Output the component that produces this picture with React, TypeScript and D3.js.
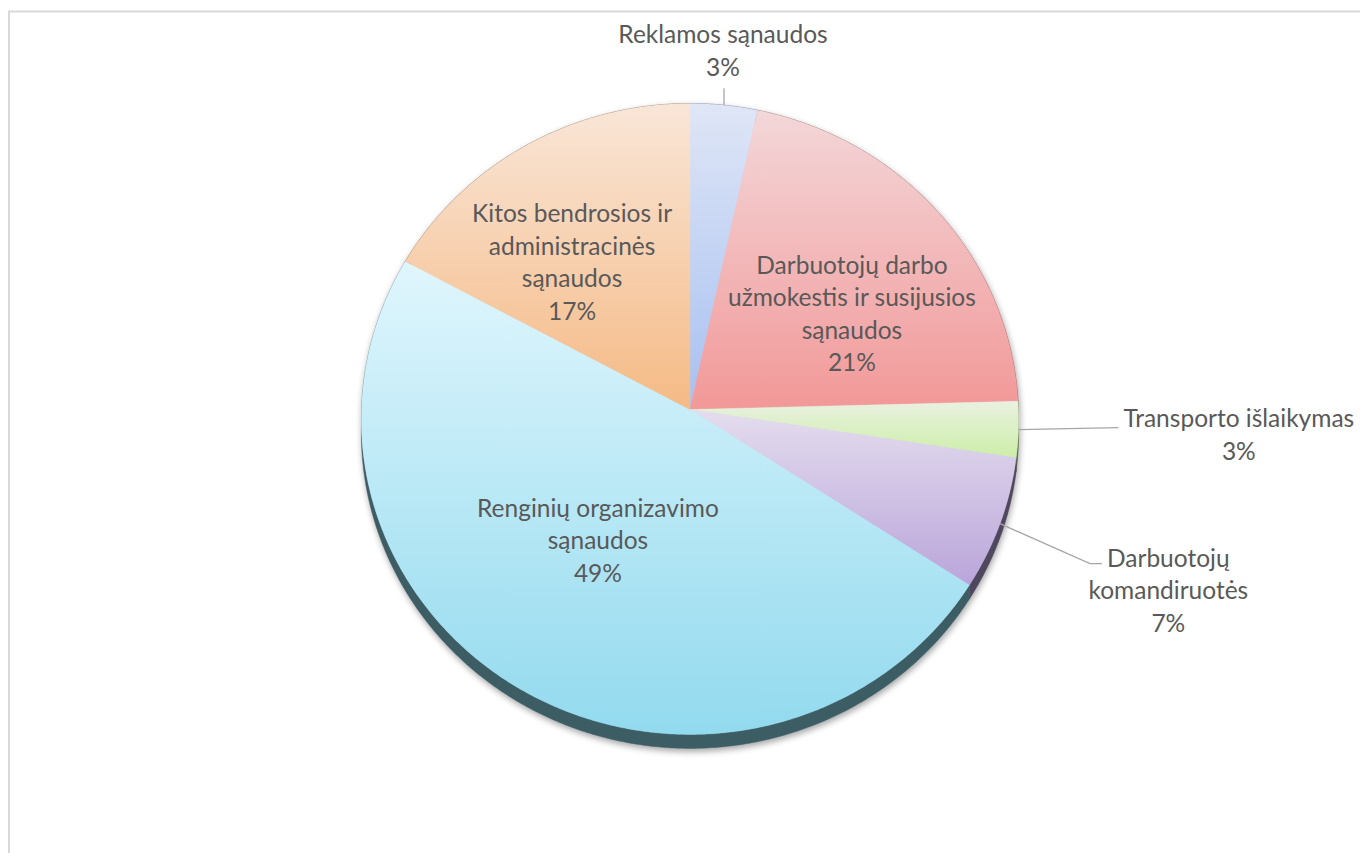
import React, { useEffect, useRef } from 'react';
import * as d3 from 'd3';

// data
const categories = [
  'Reklamos sąnaudos',
  'Darbuotojų darbo užmokestis ir susijusios sąnaudos',
  'Transporto išlaikymas',
  'Darbuotojų komandiruotės',
  'Renginių organizavimo sąnaudos',
  'Kitos bendrosios ir administracinės sąnaudos',
];
const values = [3.4, 21.2, 2.85, 6.8, 48.7, 17.1];
const labelLines = [
  ['Reklamos sąnaudos'],
  ['Darbuotojų darbo', 'užmokestis ir susijusios', 'sąnaudos'],
  ['Transporto išlaikymas'],
  ['Darbuotojų', 'komandiruotės'],
  ['Renginių organizavimo', 'sąnaudos'],
  ['Kitos bendrosios ir', 'administracinės', 'sąnaudos'],
];
const topColors = ['#dfe6f6', '#f3d7d9', '#e9f1e0', '#e4ddee', '#e0f6fd', '#f9e6d8'];
const bottomColors = ['#a7c0f1', '#f29898', '#cdeea8', '#baa5da', '#92daee', '#f5ba85'];

const W = 1360;
const H = 853;

// slightly tilted pie (perspective)
const CX = 690;
const CY = 409.5;
const RX = 328.5;
const RY = 315.2;
const PERSP = 0.0299;
const DEPTH = 14;

// label layout: inside = [radius fraction, angle deg], outside = leader elbow offset
const labelInside: (number[] | null)[] = [null, [0.584, 58.4], null, null, [0.495, 214], [0.598, 322.5]];
const labelOutside: (number[] | null)[] = [[0, -17], null, [100, -2], [90, 40], null, null];

function project(theta: number, r: number): [number, number] {
  const u = r * Math.sin(theta);
  const v = -r * Math.cos(theta);
  const den = 1 - PERSP * v;
  return [CX + (RX * u) / den, CY + (RY * v) / den];
}

function arcPoints(a0: number, a1: number) {
  const n = Math.max(2, Math.ceil(((a1 - a0) * 180) / Math.PI / 0.5));
  return d3.range(n + 1).map(i => project(a0 + ((a1 - a0) * i) / n, 1));
}

export default function App() {
  const ref = useRef<SVGSVGElement>(null);

  useEffect(() => {
    const svg = d3.select(ref.current);
    svg.selectAll('*').remove();

    const total = d3.sum(values);
    const pct = d3.format('.0%');
    const arcs = d3.pie<number>().sort(null).value(d => d)(values);
    const line = d3.line();

    const defs = svg.append('defs');
    arcs.forEach((a, i) => {
      const g = defs.append('linearGradient').attr('id', 'grad' + i)
        .attr('x1', 0).attr('y1', 0).attr('x2', 0).attr('y2', 1);
      g.append('stop').attr('offset', '0%').attr('stop-color', topColors[i]);
      g.append('stop').attr('offset', '100%').attr('stop-color', bottomColors[i]);
    });
    defs.append('filter').attr('id', 'shadow')
      .attr('x', '-10%').attr('y', '-10%').attr('width', '120%').attr('height', '125%')
      .append('feDropShadow')
      .attr('dx', 1).attr('dy', 3).attr('stdDeviation', 3)
      .attr('flood-color', '#000').attr('flood-opacity', 0.35);

    // chart frame
    svg.append('rect')
      .attr('x', 9).attr('y', 11.5).attr('width', W + 40).attr('height', H + 40)
      .attr('fill', '#fff').attr('stroke', '#d9d9d9').attr('stroke-width', 2);

    const pieG = svg.append('g').attr('filter', 'url(#shadow)');

    // side walls
    arcs.forEach((a, i) => {
      const pts = arcPoints(a.startAngle, a.endAngle);
      const low = pts.map(p => [p[0], p[1] + DEPTH] as [number, number]).reverse();
      const side = d3.color(bottomColors[i])!.darker(2.4).formatHex();
      pieG.append('path')
        .attr('d', line([...pts, ...low]) + 'Z')
        .attr('fill', side)
        .attr('stroke', side)
        .attr('stroke-width', 0.5);
    });

    // top surface
    arcs.forEach((a, i) => {
      const pts = arcPoints(a.startAngle, a.endAngle);
      pieG.append('path')
        .attr('d', line([[CX, CY], ...pts]) + 'Z')
        .attr('fill', `url(#grad${i})`)
        .attr('stroke', `url(#grad${i})`)
        .attr('stroke-width', 0.4);
    });

    const fs = 24.5;
    const lh = 32.5;
    const textG = svg.append('g')
      .attr('font-family', 'Lato, "Open Sans", sans-serif')
      .attr('font-size', fs)
      .attr('fill', '#595959');

    const drawBlock = (lines: string[], x: number, yFirst: number, anchor: string) => {
      const t = textG.append('text').attr('text-anchor', anchor);
      lines.forEach((l, k) => {
        t.append('tspan').attr('x', x).attr('y', yFirst + k * lh + fs * 0.36).text(l);
      });
      return t;
    };

    arcs.forEach((a, i) => {
      const lines = [...labelLines[i], pct(values[i] / total)];
      const inside = labelInside[i];
      if (inside) {
        const [x, y] = project((inside[1] * Math.PI) / 180, inside[0]);
        drawBlock(lines, x, y - ((lines.length - 1) * lh) / 2, 'middle');
        return;
      }
      const off = labelOutside[i]!;
      const mid = (a.startAngle + a.endAngle) / 2;
      const [ex, ey] = project(mid, 1);
      const bx = ex + off[0];
      const by = ey + off[1];
      if (off[0] === 0) {
        // vertical leader, label above
        svg.append('path').attr('d', line([[ex, ey], [bx, by]]))
          .attr('stroke', '#a6a6a6').attr('stroke-width', 1.3).attr('fill', 'none');
        drawBlock(lines, bx - 1, by - 21 - (lines.length - 1) * lh, 'middle');
      } else {
        const hook = off[1] > 10 ? 12 : 0;
        svg.append('path').attr('d', line([[ex, ey], [bx, by], [bx + hook, by]]))
          .attr('stroke', '#a6a6a6').attr('stroke-width', 1.3).attr('fill', 'none');
        const t = drawBlock(lines, 0, by - (hook ? 6 : 9), 'middle');
        const w0 = (t.select('tspan').node() as SVGTSpanElement).getComputedTextLength();
        t.selectAll('tspan').attr('x', bx + hook + 5 + w0 / 2);
      }
    });
  }, []);

  return (
    <svg
      ref={ref}
      width={W}
      height={H}
      style={{ position: 'absolute', left: 0, top: 0, background: '#fff' }}
    />
  );
}
